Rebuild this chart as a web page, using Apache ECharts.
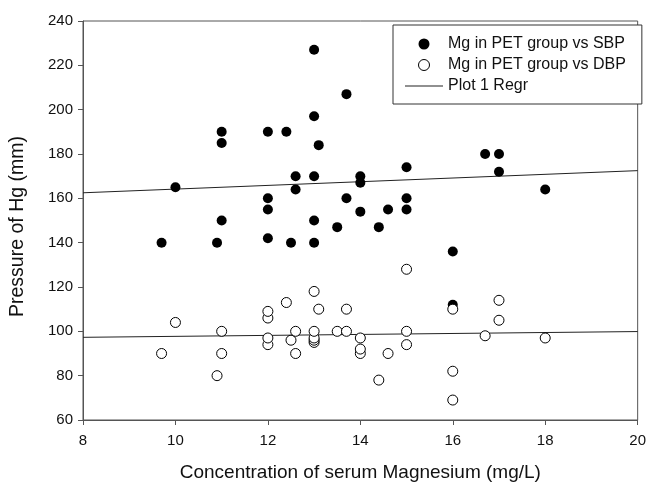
<!DOCTYPE html>
<html>
<head>
<meta charset="utf-8">
<script src="https://cdn.jsdelivr.net/npm/echarts@6/dist/echarts.min.js"></script>
<style>html,body{margin:0;padding:0;background:#fff}#c{width:649px;height:487px}</style>
</head>
<body>
<div id="c"></div>
<script>
const sbpPoints = [
  [9.7,140],[10,165],[10.9,140],[11,150],[11,185],[11,190],[12,142],[12,155],[12,160],[12,190],
  [12.4,190],[12.5,140],[12.6,164],[12.6,170],[13,140],[13,150],[13,170],[13,197],[13,227],[13.1,184],
  [13.5,147],[13.7,160],[13.7,207],[14,154],[14,167],[14,170],[14.4,147],[14.6,155],[15,155],[15,160],
  [15,174],[16,112],[16,136],[16.7,180],[17,172],[17,180],[18,164]
];
const dbpPoints = [
  [9.7,90],[10,104],[10.9,80],[11,90],[11,100],[12,94],[12,97],[12,106],[12,109],[12.4,113],
  [12.5,96],[12.6,90],[12.6,100],[13,95],[13,96],[13,97],[13,100],[13,118],[13.1,110],[13.5,100],
  [13.7,100],[13.7,110],[14,90],[14,92],[14,97],[14.4,78],[14.6,90],[15,94],[15,100],[15,128],
  [16,69],[16,82],[16,110],[16.7,98],[17,105],[17,114],[18,97]
];
const sbpRegr = [[8,162.5],[20,172.5]];
const dbpRegr = [[8,97.3],[20,99.9]];
const seriesNames = ['Mg in PET group vs SBP','Mg in PET group vs DBP','Plot 1 Regr'];
const xTitle = 'Concentration of serum Magnesium (mg/L)';
const yTitle = 'Pressure of Hg (mm)';

const font = "'Liberation Sans', Arial, sans-serif";
const chart = echarts.init(document.getElementById('c'), null, {renderer:'canvas'});
chart.setOption({
  animation:false,
  backgroundColor:'#fff',
  grid:{left:82,right:10,top:21,bottom:66,show:true,borderColor:'#555',borderWidth:1,backgroundColor:'transparent'},
  legend:{
    orient:'vertical', left:393, top:25,
    itemWidth:38, itemHeight:11, itemGap:5,
    padding:[11,16,10,12],
    borderColor:'#333', borderWidth:1, backgroundColor:'#fff',
    textStyle:{fontFamily:font,fontSize:16,color:'#111'},
    data:[
      {name:seriesNames[0], icon:'circle', itemStyle:{color:'#000',borderColor:'#000'}},
      {name:seriesNames[1], icon:'circle', itemStyle:{color:'#fff',borderColor:'#000',borderWidth:1}},
      {name:seriesNames[2], icon:'path://M0,0 L38,0 L38,1 L0,1 Z', itemStyle:{color:'#222',borderWidth:0}}
    ]
  },
  xAxis:{
    type:'value', min:8, max:20, interval:2,
    name:xTitle, nameLocation:'middle', nameGap:43,
    nameTextStyle:{fontFamily:font,fontSize:19,color:'#111'},
    axisLine:{show:true,lineStyle:{color:'#555',width:1}},
    axisTick:{show:true,inside:false,length:5,lineStyle:{color:'#555'}},
    axisLabel:{fontFamily:font,fontSize:15,color:'#111',margin:13},
    splitLine:{show:false}
  },
  yAxis:{
    type:'value', min:60, max:240, interval:20,
    name:yTitle, nameLocation:'middle', nameGap:55, nameRotate:90,
    nameTextStyle:{fontFamily:font,fontSize:19.5,color:'#111',padding:[0,12,0,0]},
    axisLine:{show:true,lineStyle:{color:'#555',width:1}},
    axisTick:{show:true,inside:false,length:5,lineStyle:{color:'#555'}},
    axisLabel:{fontFamily:font,fontSize:15,color:'#111',margin:10},
    splitLine:{show:false}
  },
  series:[
    {name:seriesNames[2], type:'line', data:sbpRegr, symbol:'none', itemStyle:{color:'#222'}, lineStyle:{color:'#222',width:1}, z:1},
    {name:seriesNames[2], type:'line', data:dbpRegr, symbol:'none', itemStyle:{color:'#222'}, lineStyle:{color:'#222',width:1}, z:1},
    {name:seriesNames[0], type:'scatter', data:sbpPoints, symbol:'circle', symbolSize:10,
     itemStyle:{color:'#000',borderColor:'#000',borderWidth:0,opacity:1}, z:2},
    {name:seriesNames[1], type:'scatter', data:dbpPoints, symbol:'circle', symbolSize:10,
     itemStyle:{color:'#fff',borderColor:'#000',borderWidth:1,opacity:1}, z:3}
  ]
});
</script>
</body>
</html>
